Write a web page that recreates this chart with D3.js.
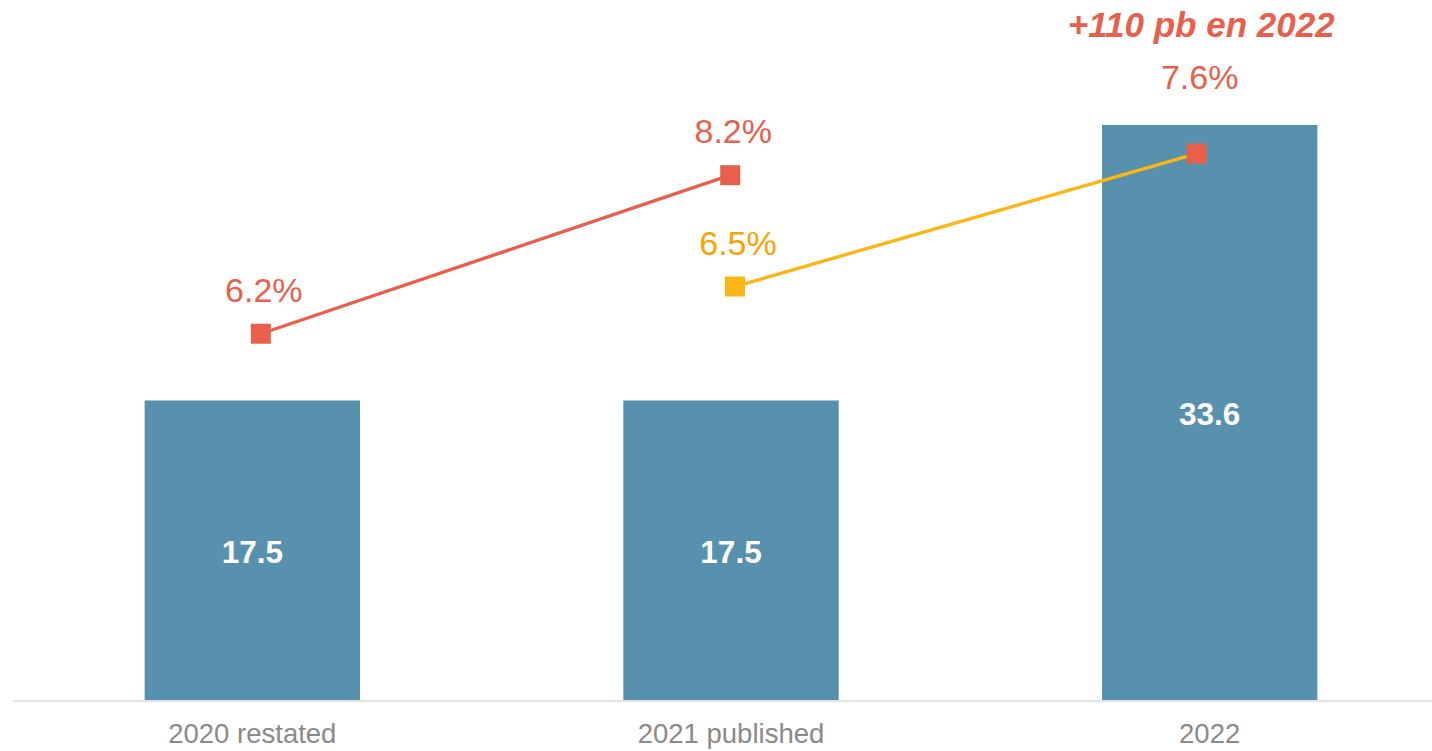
<!DOCTYPE html>
<html>
<head>
<meta charset="utf-8">
<script src="https://cdn.jsdelivr.net/npm/d3@7"></script>
<style>
  html, body { margin: 0; padding: 0; background: #ffffff; }
  svg { display: block; font-family: "Liberation Sans", Arial, sans-serif; }
</style>
</head>
<body>
<svg id="chart" width="1432" height="751"></svg>
<script>
// Categories on the x axis
const categories = ["2020 restated", "2021 published", "2022"];
// Bar values
const barValues = [17.5, 17.5, 33.6];
// Margin series (%), restated basis: 2020 restated -> 2021 published
const marginRestated = [
  { cat: "2020 restated", value: 6.2 },
  { cat: "2021 published", value: 8.2 }
];
// Margin series (%), published basis: 2021 published -> 2022
const marginPublished = [
  { cat: "2021 published", value: 6.5 },
  { cat: "2022", value: 7.6 }
];
const annotationText = "+110 pb en 2022";

const W = 1432, H = 751;
const baseY = 700;
const colors = {
  bar: "#5891ad",
  red: "#e8604c",
  yellowLine: "#fbb616",
  yellowLabel: "#f7a400",
  axis: "#e3e3e3",
  catText: "#8a8a8a"
};

const svg = d3.select("#chart");

const x = d3.scaleBand()
  .domain(categories)
  .range([13, 1449])
  .paddingInner(0.55)
  .paddingOuter(0.275);
const cx = c => x(c) + x.bandwidth() / 2;

const yBar = d3.scaleLinear().domain([0, 40.9]).range([baseY, 0]);

// Each margin series sits on its own (hidden) percentage axis
const yRed = d3.scaleLinear().domain([1.58, 10.41]).range([baseY, 0]);
const yYellow = d3.scaleLinear().domain([3.08, 8.87]).range([baseY, 0]);

// Each line overlay has its own point scale, slightly narrower than the bars
const xRed = d3.scalePoint().domain(categories)
  .range([cx(categories[0]) + 8.5, cx(categories[2]) - 10]);
const xYellow = d3.scalePoint().domain(categories)
  .range([cx(categories[0]) + 21, cx(categories[2]) - 13]);

// Bars
const bars = categories.map((c, i) => ({ cat: c, value: barValues[i] }));
svg.append("g").selectAll("rect")
  .data(bars)
  .join("rect")
  .attr("x", d => x(d.cat))
  .attr("y", d => yBar(d.value))
  .attr("width", x.bandwidth())
  .attr("height", d => baseY - yBar(d.value))
  .attr("fill", colors.bar);

// Bar value labels
svg.append("g").selectAll("text")
  .data(bars)
  .join("text")
  .attr("x", d => cx(d.cat))
  .attr("y", d => (yBar(d.value) + baseY) / 2 + 13)
  .attr("text-anchor", "middle")
  .attr("font-size", 31.5)
  .attr("font-weight", "bold")
  .attr("fill", "#ffffff")
  .text(d => d.value.toFixed(1));

// Baseline
svg.append("line")
  .attr("x1", 13).attr("x2", W)
  .attr("y1", baseY + 1).attr("y2", baseY + 1)
  .attr("stroke", colors.axis)
  .attr("stroke-width", 2);

// Category labels
svg.append("g").selectAll("text")
  .data(categories)
  .join("text")
  .attr("x", d => cx(d))
  .attr("y", 743)
  .attr("text-anchor", "middle")
  .attr("font-size", 27.5)
  .attr("fill", colors.catText)
  .text(d => d);

function drawSeries(data, xScale, yScale, lineColor, markerColor, labelColor) {
  const g = svg.append("g");
  g.append("path")
    .datum(data)
    .attr("d", d3.line().x(d => xScale(d.cat)).y(d => yScale(d.value)))
    .attr("fill", "none")
    .attr("stroke", lineColor)
    .attr("stroke-width", 3.4);
  g.selectAll("rect")
    .data(data)
    .join("rect")
    .attr("x", d => xScale(d.cat) - 10)
    .attr("y", d => yScale(d.value) - 10)
    .attr("width", 20)
    .attr("height", 20)
    .attr("fill", (d, i) => markerColor(d, i));
  g.selectAll("text")
    .data(data)
    .join("text")
    .attr("x", d => xScale(d.cat) + 3)
    .attr("y", d => {
      const barTop = yBar(barValues[categories.indexOf(d.cat)]);
      return Math.min(yScale(d.value) - 32, barTop - 36);
    })
    .attr("text-anchor", "middle")
    .attr("font-size", 34)
    .attr("fill", (d, i) => labelColor(d, i))
    .text(d => d.value.toFixed(1) + "%");
}

drawSeries(marginRestated, xRed, yRed, colors.red, () => colors.red, () => colors.red);
// The 2022 point is highlighted in the accent red
const lastCat = categories[categories.length - 1];
drawSeries(marginPublished, xYellow, yYellow, colors.yellowLine,
  d => d.cat === lastCat ? colors.red : colors.yellowLine,
  d => d.cat === lastCat ? colors.red : colors.yellowLabel);

// Headline annotation above the 2022 label
svg.append("text")
  .attr("x", cx(lastCat) - 8.5)
  .attr("y", 36.5)
  .attr("text-anchor", "middle")
  .attr("font-size", 35)
  .attr("font-weight", "bold")
  .attr("font-style", "italic")
  .attr("fill", colors.red)
  .text(annotationText);
</script>
</body>
</html>
